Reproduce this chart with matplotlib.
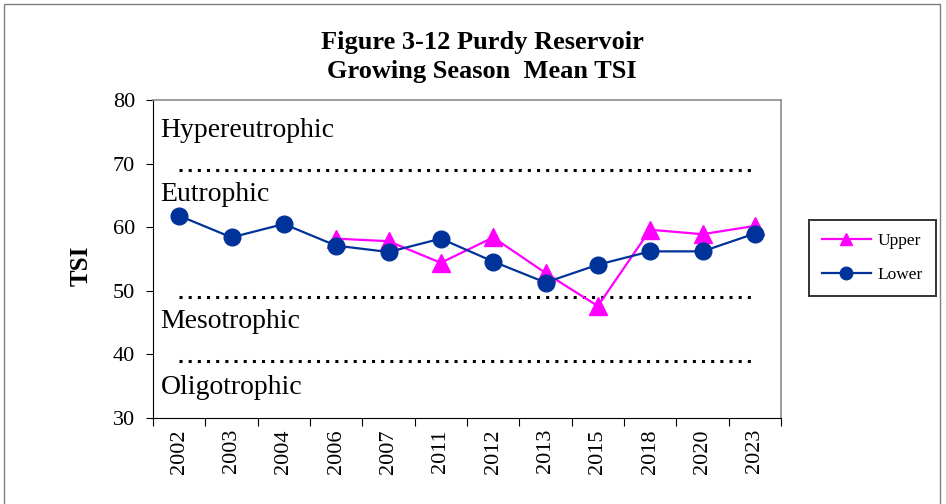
import matplotlib.pyplot as plt
from matplotlib.patches import Rectangle
import numpy as np

years = ['2002', '2003', '2004', '2006', '2007', '2011',
         '2012', '2013', '2015', '2018', '2020', '2023']
lower = [61.8, 58.4, 60.5, 57.1, 56.1, 58.2, 54.6, 51.3, 54.1, 56.2, 56.2, 59.0]
upper = [None, None, None, 58.2, 57.8, 54.4, 58.4, 52.8, 47.6, 59.6, 58.9, 60.2]
bounds = [69, 49, 39]
zones = ['Hypereutrophic', 'Eutrophic', 'Mesotrophic', 'Oligotrophic']
zone_y = [75.2, 65.2, 45.2, 34.8]

plt.rcParams['font.family'] = ['Liberation Serif', 'DejaVu Serif']

fig = plt.figure(figsize=(9.46, 5.04), dpi=100)
W, H = 946, 504
ax = fig.add_axes([153 / W, 1 - 418 / H, (781 - 153) / W, (418 - 100) / H])

# outer chart border
fig.patches.append(Rectangle((4 / W, -0.1), 936 / W, 1.1 - 4 / H, transform=fig.transFigure,
                             fill=False, edgecolor='#7f7f7f', lw=1.0))

x = np.arange(len(years))
up = np.array([np.nan if v is None else v for v in upper])

for b in bounds:
    ax.plot([0, len(years) - 1], [b, b], color='black', ls=(0, (1, 2)), lw=2.2)
for name, yy in zip(zones, zone_y):
    ax.text(0.012, yy, name, transform=ax.get_yaxis_transform(), fontsize=20, va='center')

ax.plot(x, up, color='#ff00ff', marker='^', ms=13, lw=1.6, label='Upper')
ax.plot(x, lower, color='#003399', marker='o', ms=12, lw=1.6, label='Lower')

ax.set_xlim(-0.5, len(years) - 0.5)
ax.set_ylim(30, 80)
ax.set_yticks(range(30, 81, 10))
ax.tick_params(axis='y', labelsize=16, direction='out', length=5, pad=8)
ax.set_xticks(np.arange(-0.5, len(years), 1))
ax.set_xticklabels([])
ax.tick_params(axis='x', which='major', direction='out', length=6)
ax.set_xticks(x, minor=True)
ax.set_xticklabels(years, minor=True, rotation=90, fontsize=16)
ax.tick_params(axis='x', which='minor', length=0, pad=8)
ax.set_ylabel('TSI', fontsize=18, fontweight='bold')
ax.yaxis.set_label_coords(-0.096, 0.48)

for s in ['top', 'right']:
    ax.spines[s].set_color('#8c8c8c')
    ax.spines[s].set_linewidth(1.2)
for s in ['left', 'bottom']:
    ax.spines[s].set_color('black')

fig.text(482 / W, 1 - 57 / H, 'Figure 3-12 Purdy Reservoir\nGrowing Season  Mean TSI',
         ha='center', va='center', fontsize=19, fontweight='bold', linespacing=1.35)

leg = ax.legend(loc='center left', bbox_to_anchor=(809 / W, 1 - 258 / H),
                bbox_transform=fig.transFigure, fontsize=12.5, frameon=True,
                fancybox=False, edgecolor='black', handlelength=2.8,
                borderpad=0.75, labelspacing=1.0, handletextpad=0.4,
                borderaxespad=0)
leg.get_frame().set_linewidth(1.4)
for h in leg.legend_handles:
    h.set_markersize(9)

fig.savefig('out.png', dpi=100)
